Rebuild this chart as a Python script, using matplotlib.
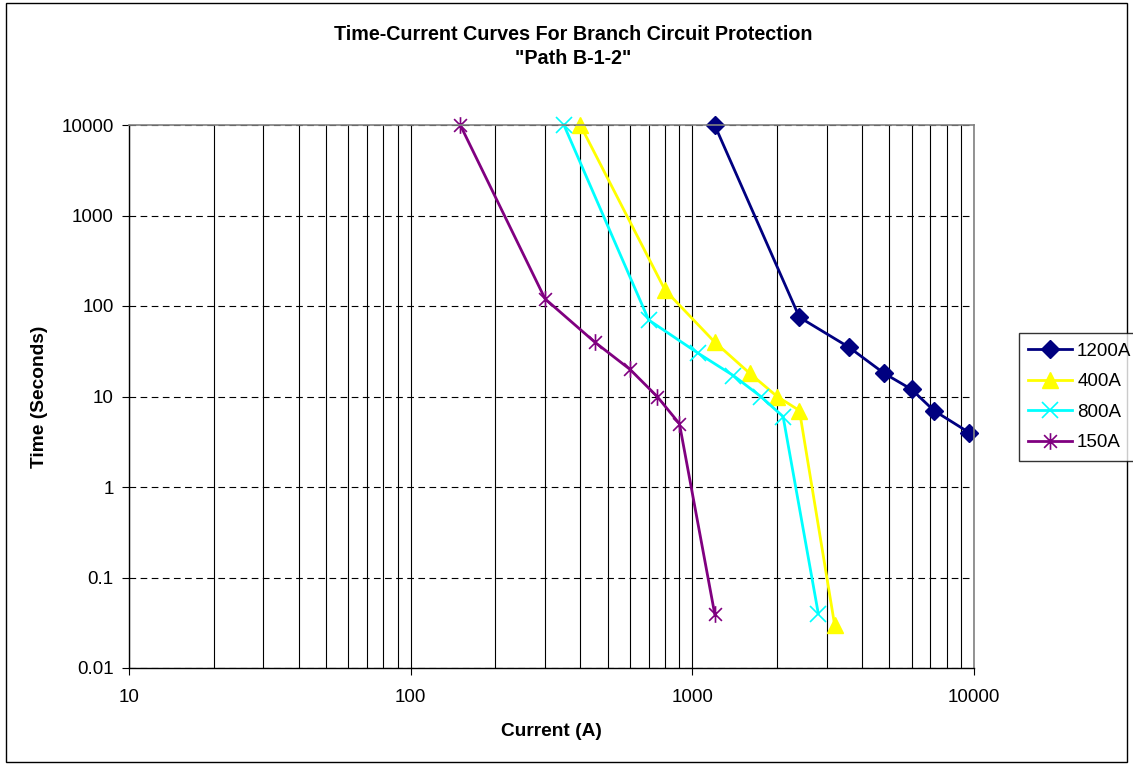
import matplotlib
matplotlib.use("Agg")
import matplotlib.pyplot as plt
from matplotlib.path import Path
from matplotlib.patches import Rectangle
from matplotlib.ticker import LogLocator, FixedLocator, FixedFormatter, NullFormatter

plt.rcParams['font.family'] = ['Liberation Sans', 'DejaVu Sans']

# data
cur_1200 = [1200, 2400, 3600, 4800, 6000, 7200, 9600]
t_1200 = [10000, 75, 35, 18, 12, 7, 4]
cur_400 = [400, 800, 1200, 1600, 2000, 2400, 3200]
t_400 = [10000, 150, 40, 18, 10, 7, 0.03]
cur_800 = [350, 700, 1050, 1400, 1750, 2100, 2800]
t_800 = [10000, 70, 30, 17, 10, 6, 0.04]
cur_150 = [150, 300, 450, 600, 750, 900, 1200]
t_150 = [10000, 120, 40, 20, 10, 5, 0.04]

y_ticks = [0.01, 0.1, 1, 10, 100, 1000, 10000]
y_labels = ['0.01', '0.1', '1', '10', '100', '1000', '10000']
x_ticks = [10, 100, 1000, 10000]
x_labels = ['10', '100', '1000', '10000']

W, H = 1133, 765
fig = plt.figure(figsize=(W / 100, H / 100), dpi=100)
ax = fig.add_axes([129 / W, 1 - 668 / H, (974 - 129) / W, (668 - 125) / H])

# Excel style star marker: x with a vertical bar
star = Path([(-1, -1), (1, 1), (-1, 1), (1, -1), (0, -1.3), (0, 1.3)],
            [Path.MOVETO, Path.LINETO, Path.MOVETO, Path.LINETO, Path.MOVETO, Path.LINETO])

ax.plot(cur_1200, t_1200, color='#000080', lw=2, marker='D', ms=9, label='1200A', clip_on=False)
ax.plot(cur_400, t_400, color='#FFFF00', lw=2, marker='^', ms=11, label='400A', clip_on=False)
ax.plot(cur_800, t_800, color='#00FFFF', lw=2, marker='x', ms=11, mew=1.2, label='800A', clip_on=False)
ax.plot(cur_150, t_150, color='#800080', lw=2, marker=star, ms=12, mew=1.2, label='150A', clip_on=False)

ax.set_xscale('log')
ax.set_yscale('log')
ax.set_xlim(10, 10000)
ax.set_ylim(0.01, 10000)

ax.xaxis.set_major_locator(FixedLocator(x_ticks))
ax.xaxis.set_major_formatter(FixedFormatter(x_labels))
ax.xaxis.set_minor_locator(LogLocator(base=10, subs=range(2, 10)))
ax.xaxis.set_minor_formatter(NullFormatter())
ax.yaxis.set_major_locator(FixedLocator(y_ticks))
ax.yaxis.set_major_formatter(FixedFormatter(y_labels))
ax.yaxis.set_minor_locator(FixedLocator([]))

ax.tick_params(axis='both', which='major', direction='out', length=5, width=0.8,
               labelsize=13.5)
ax.tick_params(axis='x', which='major', pad=10)
ax.tick_params(axis='y', which='major', pad=6)
ax.tick_params(axis='x', which='minor', length=0)

ax.grid(axis='x', which='both', color='black', lw=0.8, ls='-')
ax.grid(axis='y', which='major', color='black', lw=0.8, ls=(0, (6, 4)))
ax.set_axisbelow(True)

for s in ['top', 'right']:
    ax.spines[s].set_color('#808080')
    ax.spines[s].set_linewidth(1.2)
for s in ['left', 'bottom']:
    ax.spines[s].set_color('black')
    ax.spines[s].set_linewidth(1)

fig.text(573 / W, 1 - 34 / H, 'Time-Current Curves For Branch Circuit Protection',
         ha='center', va='center', fontsize=14.2, fontweight='bold')
fig.text(573 / W, 1 - 58 / H, '"Path B-1-2"',
         ha='center', va='center', fontsize=14.2, fontweight='bold')
fig.text(551 / W, 1 - 731 / H, 'Current (A)', ha='center', va='center',
         fontsize=13.8, fontweight='bold')
fig.text(40 / W, 1 - 397 / H, 'Time (Seconds)', ha='center', va='center',
         rotation=90, fontsize=13.8, fontweight='bold')

leg = fig.legend(loc='upper left', bbox_to_anchor=(1019 / W, 1 - 333 / H),
                 frameon=True, fancybox=False, edgecolor='black', fontsize=13.5,
                 handlelength=2.3, handletextpad=0.3, borderpad=0.5, labelspacing=0.72,
                 borderaxespad=0)
leg.get_frame().set_linewidth(1)

fig.patches.append(Rectangle((6 / W, 3 / H), (W - 12) / W, (H - 6) / H,
                             transform=fig.transFigure, fill=False,
                             edgecolor='black', lw=1))

fig.savefig('out.png', dpi=100)
